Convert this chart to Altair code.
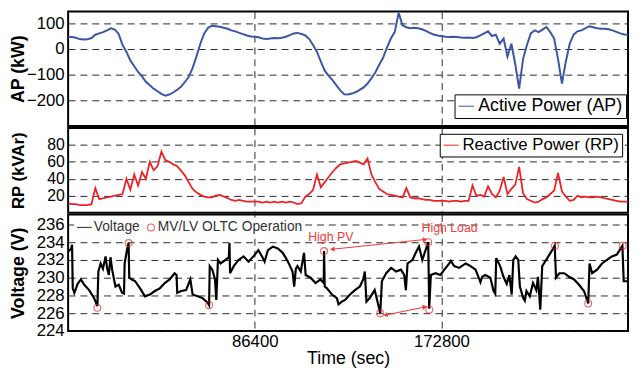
import altair as alt
import pandas as pd

FONT = "Liberation Sans"
BLUE = "#3c55a5"
RED = "#ee2226"
ARED = "#ef3b3b"

# ---------------- data ----------------
STEP_S = 1800  # sampling step of the power traces (s)

ap_kw = [47, 46, 43, 38, 36, 37, 42, 55, 60, 65,
         72, 80, 75, 58, 15, -12, -45, -68, -90, -107,
         -128, -142, -155, -165, -175, -182, -178, -170, -160, -148,
         -130, -110, -75, -30, 20, 60, 82, 90, 88, 86,
         82, 78, 72, 68, 62, 57, 52, 48, 47,
         45, 40, 38, 40, 42, 41, 43, 47, 53, 60,
         62, 58, 52, 38, 15, -12, -50, -85, -105, -122,
         -142, -162, -177, -178, -174, -168, -160, -150, -135, -115,
         -92, -62, -35, 5, 40, 65, 140, 92, 84, 80,
         82, 80, 76, 70, 62, 56, 52, 50,
         47, 46, 47, 46, 44, 43, 44, 42, 45, 52,
         60, 68, 50, 55, 20, 40, -30, 20, -60, -155,
         -40, 15, 60, 72, 65, 75, 85, 65, 40, -40,
         -135, -50, 20, 55, 68, 72, 80, 88, 84, 80,
         78, 78, 76, 72, 66, 60, 56, 55]

rp_kvar = [11, 10, 10, 9, 9, 9, 10, 29, 16, 17,
           18, 19, 20, 21, 22, 40, 27, 45, 32, 48,
           40, 60, 50, 55, 72, 62, 60, 57, 55, 50,
           44, 36, 28, 24, 21, 19, 18, 18, 20, 21,
           19, 17, 15, 14, 15, 14, 13, 13, 13,
           13, 12, 13, 12, 13, 12, 13, 12, 13, 12,
           10, 11, 19, 22, 27, 45, 30, 36, 42, 48,
           53, 57, 58, 59, 60, 61, 59, 57, 64, 45,
           36, 28, 25, 22, 21, 20, 19, 18, 29, 18,
           17, 17, 16, 15, 15, 14, 14, 14,
           14, 13, 14, 14, 13, 14, 14, 32, 20, 21,
           19, 31, 22, 18, 26, 42, 22, 28, 33, 54,
           23, 16, 14, 12, 13, 16, 18, 22, 26, 47,
           25, 19, 14, 15, 20, 18, 19, 18, 18, 19,
           18, 17, 16, 15, 14, 13, 13, 13]

sample_t = [i * STEP_S for i in range(len(ap_kw))]

volt_t = [0, 600, 1370, 1825, 2130, 2890, 4410, 5930, 7450, 9730,
          12020, 13540, 14000, 15060, 16120, 17340, 18100, 18860, 19620, 20380,
          21900, 23420, 24940, 25860, 26160, 27230, 27990, 28290, 29510, 31030,
          33310, 35590, 37870, 40150, 42440, 44720, 47000, 49280, 50190, 50500,
          52320, 54600, 56580, 57640, 59930, 62210, 64490, 65250, 65560, 66770,
          67990, 68600, 69360, 70570, 72860, 74380, 74680, 74980, 76660, 78940,
          81220, 83500, 85790, 88070,
          90196, 90956, 92477, 94759, 97040, 99322, 100843, 102364, 103885, 104645,
          105406, 106166, 107687, 109208, 109969, 112250, 114532, 116813, 118334, 118490,
          118790, 119855, 122137, 124418, 125178, 126700, 128221, 130502, 132784, 135065,
          136586, 137347, 138107, 139628, 141910, 143431, 144495, 145256, 147233, 149515,
          151796, 154078, 155599, 156359, 157120, 159401, 160922, 162443, 163964, 165485,
          166700, 167160, 167920, 170048, 172330,
          174154, 176436, 177196, 178717, 180999, 184041, 186322, 188604, 190885, 191646,
          193167, 195448, 196969, 197730, 198186, 200011, 201532, 203053, 204270, 205335,
          206095, 207160, 208377, 209137, 210658, 211419, 212179, 213700, 215221, 216742,
          217503, 218567, 219480, 221305, 223587, 225260, 225868, 227389, 229671, 231952,
          234234, 236515, 238797, 240774, 241382, 242599, 244881, 247162, 249444, 251725,
          254007, 256592, 257200, 259200]

volt_v = [232.9, 233.1, 233.2, 233.7, 228.8, 228.3, 229.3, 229.8, 229.2, 228.6,
          227.7, 226.8, 230.7, 231.6, 231.0, 232.4, 231.0, 230.3, 232.3, 230.9,
          229.0, 229.2, 228.3, 228.2, 231.6, 233.1, 233.9, 230.0, 229.8, 229.6,
          228.8, 227.9, 228.1, 228.5, 228.8, 229.4, 229.8, 230.5, 230.3, 228.3,
          228.5, 228.6, 229.8, 228.1, 227.9, 227.7, 227.2, 226.9, 231.3, 230.9,
          229.8, 227.5, 232.0, 231.6, 232.0, 232.3, 233.9, 230.5, 231.3, 232.0,
          232.4, 231.8, 232.4, 233.1,
          232.2, 231.8, 233.1, 233.5, 233.3, 232.8, 232.2, 231.5, 230.7, 229.0,
          231.0, 231.3, 230.7, 232.8, 230.3, 230.0, 229.4, 229.8, 229.4, 233.0,
          229.0, 228.8, 228.1, 227.7, 227.0, 227.3, 227.5, 228.1, 228.6, 229.0,
          229.8, 230.7, 227.3, 227.7, 228.6, 227.1, 226.0, 229.6, 230.5, 231.1,
          230.7, 230.9, 230.3, 228.6, 231.6, 232.0, 232.8, 233.5, 232.0, 233.1,
          234.0, 226.5, 230.3, 230.5, 230.3,
          230.9, 231.6, 231.9, 231.3, 231.1, 231.6, 231.3, 230.9, 229.5, 230.1,
          230.3, 230.0, 228.5, 228.2, 232.2, 231.3, 230.1, 229.3, 230.3, 228.1,
          232.0, 232.4, 232.0, 229.0, 227.7, 227.4, 228.5, 227.9, 229.4, 228.6,
          230.1, 226.4, 231.3, 232.0, 232.9, 233.6, 230.0, 230.5, 230.5, 230.1,
          229.8, 229.2, 228.5, 227.1, 231.6, 230.5, 230.9, 231.6, 232.0, 232.4,
          232.6, 233.6, 229.6, 229.6]

oltc_t = [13540, 27990, 65250, 118490, 144500, 166700, 167160, 225400, 240770, 256750]
oltc_v = [226.6, 233.9, 226.9, 233.0, 226.0, 234.0, 226.4, 233.6, 227.1, 233.6]

arrow_t1 = [122290, 146930]
arrow_v1 = [233.2, 225.8]
arrow_t2 = [165180, 165180]
arrow_v2 = [234.3, 226.7]
head_angle_left = [174, 169]
head_angle_right = [354, 349]

note_t = [121600, 176590]
note_v = [234.6, 235.6]
note_label = ["High PV", "High Load"]

day_ticks = [86400, 172800]
ap_ticks = [-200, -100, 0, 100]
rp_ticks = [20, 40, 60, 80]
v_ticks = [224, 226, 228, 230, 232, 234, 236]

# ---------------- frames ----------------
ap_df = pd.DataFrame({"t": sample_t, "val": ap_kw, "series": "Active Power (AP)"})
rp_df = pd.DataFrame({"t": sample_t, "val": rp_kvar, "series": "Reactive Power (RP)"})
v_df = pd.DataFrame({"t": volt_t, "v": volt_v})
oltc_df = pd.DataFrame({"t": oltc_t, "v": oltc_v})
arrow_df = pd.DataFrame({"t": arrow_t1, "v": arrow_v1, "t2": arrow_t2, "v2": arrow_v2})
heads_df = pd.DataFrame({"t": arrow_t1 + arrow_t2, "v": arrow_v1 + arrow_v2,
                         "ang": head_angle_left + head_angle_right})
note_df = pd.DataFrame({"t": note_t, "v": note_v, "label": note_label})
one_df = pd.DataFrame({"k": [0]})

W = 568
xscale = alt.Scale(domain=[0, 259200], nice=False)


def x_axis_hidden():
    return alt.Axis(values=day_ticks, labels=False, title=None, grid=True)


def y_axis(title, ticks, size=18, label_size=17):
    return alt.Axis(values=ticks, title=title, titleX=-50, titleAngle=270,
                    titleBaseline="middle", titleAlign="center",
                    titleFontWeight="bold", titleFontSize=size, grid=True,
                    labelOverlap=False, labelFontSize=label_size)


def box_legend(lx, ly, size):
    return alt.Legend(orient="none", legendX=lx, legendY=ly, title=None,
                      strokeColor="black", fillColor="white", padding=3,
                      labelFontSize=size, labelFont=FONT, labelColor="black",
                      labelLimit=400, symbolType="stroke", symbolSize=240,
                      symbolStrokeWidth=1, labelOffset=3)


ap_chart = alt.Chart(ap_df).mark_line(strokeWidth=2, clip=True).encode(
    x=alt.X("t:Q", scale=xscale, axis=x_axis_hidden()),
    y=alt.Y("val:Q", scale=alt.Scale(domain=[-300, 145], nice=False),
            axis=y_axis("AP (kW)", ap_ticks)),
    color=alt.Color("series:N", scale=alt.Scale(domain=["Active Power (AP)"], range=[BLUE]),
                    legend=box_legend(392, 84, 18)),
).properties(width=W, height=116)

rp_chart = alt.Chart(rp_df).mark_line(strokeWidth=1.8, clip=True).encode(
    x=alt.X("t:Q", scale=xscale, axis=x_axis_hidden()),
    y=alt.Y("val:Q", scale=alt.Scale(domain=[0, 100], nice=False),
            axis=y_axis("RP (kVAr)", rp_ticks, 17, 16)),
    color=alt.Color("series:N", scale=alt.Scale(domain=["Reactive Power (RP)"], range=[RED]),
                    legend=box_legend(377, 6, 17)),
).properties(width=W, height=86)

v_xaxis = alt.Axis(values=day_ticks, format="d", title="Time (sec)", grid=True,
                   labelPadding=3, titleFontWeight="normal", titleFontSize=18,
                   titleY=33, titleBaseline="alphabetic")
v_yaxis = y_axis("Voltage (V)", v_ticks)
v_xscale = alt.Scale(domain=[0, 259200], nice=False)
v_yscale = alt.Scale(domain=[224, 237.1], nice=False)


def vx(field="t"):
    return alt.X(f"{field}:Q", scale=v_xscale, axis=v_xaxis)


def vy(field="v"):
    return alt.Y(f"{field}:Q", scale=v_yscale, axis=v_yaxis)


volt_line = alt.Chart(v_df).mark_line(strokeWidth=2.2, color="black", clip=True).encode(
    x=vx(), y=vy())
oltc_pts = alt.Chart(oltc_df).mark_point(shape="circle", filled=False, color=RED, size=49,
                                         strokeWidth=1.1).encode(x=vx(), y=vy())
arrows = alt.Chart(arrow_df).mark_rule(color=ARED, strokeWidth=1.2).encode(
    x=vx(), y=vy(), x2="t2:Q", y2="v2:Q")
heads = alt.Chart(heads_df).mark_point(shape="triangle-right", filled=True, color=ARED,
                                       size=28, opacity=1).encode(
    x=vx(), y=vy(), angle=alt.Angle("ang:Q", scale=None))
notes = alt.Chart(note_df).mark_text(color=ARED, fontSize=12.5, font=FONT).encode(
    x=vx(), y=vy(), text="label:N")

leg_bg = alt.Chart(one_df).mark_rect(color="white").encode(
    x=alt.value(6), x2=alt.value(234), y=alt.value(3), y2=alt.value(22))
leg_line = alt.Chart(one_df).mark_rule(color="#444444", strokeWidth=1.2).encode(
    x=alt.value(9), x2=alt.value(24), y=alt.value(13))
leg_txt1 = alt.Chart(one_df).mark_text(text="Voltage", align="left", baseline="middle",
                                       fontSize=14, font=FONT, color="#333333").encode(
    x=alt.value(26), y=alt.value(13))
leg_circ = alt.Chart(one_df).mark_point(shape="circle", filled=False, color=RED, size=49,
                                        strokeWidth=1.1).encode(x=alt.value(84), y=alt.value(13))
leg_txt2 = alt.Chart(one_df).mark_text(text="MV/LV OLTC Operation", align="left",
                                       baseline="middle", fontSize=14, font=FONT,
                                       color="#333333").encode(x=alt.value(91), y=alt.value(13))

volt_chart = alt.layer(volt_line, oltc_pts, arrows, heads, notes, leg_bg,
                       leg_line, leg_txt1, leg_circ, leg_txt2).properties(width=W, height=118)

chart = alt.vconcat(ap_chart, rp_chart, volt_chart, spacing=0).resolve_scale(
    color="independent").resolve_legend(color="independent").properties(
    padding={"left": 1, "top": 0, "right": 0, "bottom": 0}
).configure_view(stroke="black", strokeWidth=2).configure_axis(
    labelFont=FONT, titleFont=FONT, labelFontSize=17, labelColor="black",
    titleColor="black", gridColor="#111111", gridDash=[7, 5], gridWidth=0.9,
    gridOpacity=1, domain=False, ticks=False, tickSize=0, labelPadding=4,
    labelFlush=False, labelOverlap=False)

chart.save("out.html", embed_options={"renderer": "svg", "actions": False})
